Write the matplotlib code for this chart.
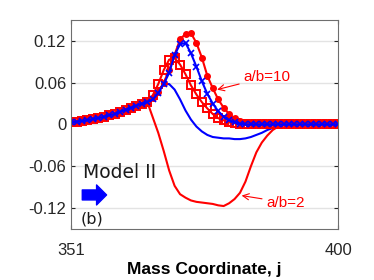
import matplotlib
matplotlib.use('Agg')
import matplotlib.pyplot as plt

# mass coordinate j = 351 .. 400
j = list(range(351, 401))

# shared rise before the peak (j = 351 .. 365)
rise = [0.003, 0.004, 0.005, 0.006, 0.008, 0.009, 0.011, 0.013, 0.015,
        0.018, 0.021, 0.024, 0.027, 0.030, 0.032]
flat = [0.0] * 10  # j = 391 .. 400

red_circ = rise + [0.038, 0.046, 0.060, 0.078, 0.100, 0.122, 0.130, 0.131,
                   0.117, 0.096, 0.070, 0.052, 0.036, 0.024, 0.015, 0.009,
                   0.005, 0.003, 0.002, 0.002, 0.002, 0.002, 0.002, 0.002,
                   0.002] + [0.002] * 10
blue_x = rise + [0.036, 0.045, 0.058, 0.074, 0.100, 0.115, 0.117, 0.102,
                 0.083, 0.062, 0.044, 0.030, 0.019, 0.011, 0.006, 0.003,
                 0.001, 0.0, 0.0, 0.0, 0.0, 0.0, 0.0, 0.0, 0.0] + flat
red_sq = rise + [0.042, 0.058, 0.078, 0.093, 0.095, 0.086, 0.072, 0.056,
                 0.043, 0.032, 0.023, 0.015, 0.009, 0.006, 0.003, 0.002,
                 0.001, 0.0, 0.0, 0.0, 0.0, 0.0, 0.0, 0.0, 0.0] + flat
blue_line = rise + [0.040, 0.050, 0.057, 0.058, 0.050, 0.036, 0.020, 0.007,
                    -0.003, -0.010, -0.015, -0.018, -0.019, -0.020, -0.020,
                    -0.021, -0.021, -0.020, -0.018, -0.015, -0.012, -0.008,
                    -0.005, -0.002, 0.0] + flat
red_line = rise + [0.010, -0.012, -0.038, -0.066, -0.088, -0.100, -0.105,
                   -0.109, -0.111, -0.112, -0.113, -0.114, -0.116, -0.117,
                   -0.113, -0.107, -0.098, -0.082, -0.060, -0.040, -0.026,
                   -0.016, -0.008, -0.003, 0.0] + flat

yticks = [-0.12, -0.06, 0, 0.06, 0.12]
yticklabels = ['-0.12', '-0.06', '0', '0.06', '0.12']

plt.rcParams['font.family'] = ['Liberation Sans', 'DejaVu Sans']

fig = plt.figure(figsize=(3.74, 2.8), dpi=100)
ax = fig.add_axes([0.190, 0.182, 0.714, 0.747])

ax.plot(j, red_line, color='red', lw=1.5)
ax.plot(j, blue_line, color='blue', lw=1.5)
ax.plot(j, red_circ, color='red', lw=1.5, marker='o', ms=4)
ax.plot(j, red_sq, color='red', lw=1.5, marker='s', ms=5.5, mfc='none', mew=1.4)
ax.plot(j, blue_x, color='blue', lw=1.5, marker='x', ms=4, mew=1.2)

ax.set_xlim(351, 400)
ax.set_ylim(-0.15, 0.15)
ax.set_xticks([351, 400])
ax.set_yticks(yticks)
ax.set_yticklabels(yticklabels)
ax.yaxis.grid(True, color='#e3e3e3', lw=1)
ax.set_axisbelow(True)
ax.tick_params(direction='in', length=3, colors='#262626', labelsize=12,
               right=True, top=True)
ax.tick_params(axis='x', pad=10)
for s in ax.spines.values():
    s.set_color('#6e6e6e')
ax.set_xlabel('Mass Coordinate, j', fontsize=12.5, fontweight='bold', labelpad=3)

ax.annotate('a/b=10', xy=(377.8, 0.050), xytext=(382.6, 0.068), color='red',
            fontsize=11, va='center',
            arrowprops=dict(arrowstyle='->', color='red', lw=0.8,
                            shrinkA=1, shrinkB=0))
ax.annotate('a/b=2', xy=(382.3, -0.102), xytext=(386.8, -0.112), color='red',
            fontsize=11, va='center',
            arrowprops=dict(arrowstyle='->', color='red', lw=0.8,
                            shrinkA=1, shrinkB=0))

ax.text(0.045, 0.268, 'Model II', transform=ax.transAxes, fontsize=13.5,
        family='DejaVu Sans', va='center', color='#1a1a1a')
ax.annotate('', xy=(0.133, 0.163), xytext=(0.042, 0.163),
            xycoords='axes fraction',
            arrowprops=dict(arrowstyle='simple,head_length=0.36,head_width=0.72,tail_width=0.36',
                            color='blue', mutation_scale=20, shrinkA=0, shrinkB=0))
ax.text(0.037, 0.050, '(b)', transform=ax.transAxes, fontsize=11.5,
        family='DejaVu Sans', va='center', color='#1a1a1a')

fig.savefig('out.png', dpi=100)
